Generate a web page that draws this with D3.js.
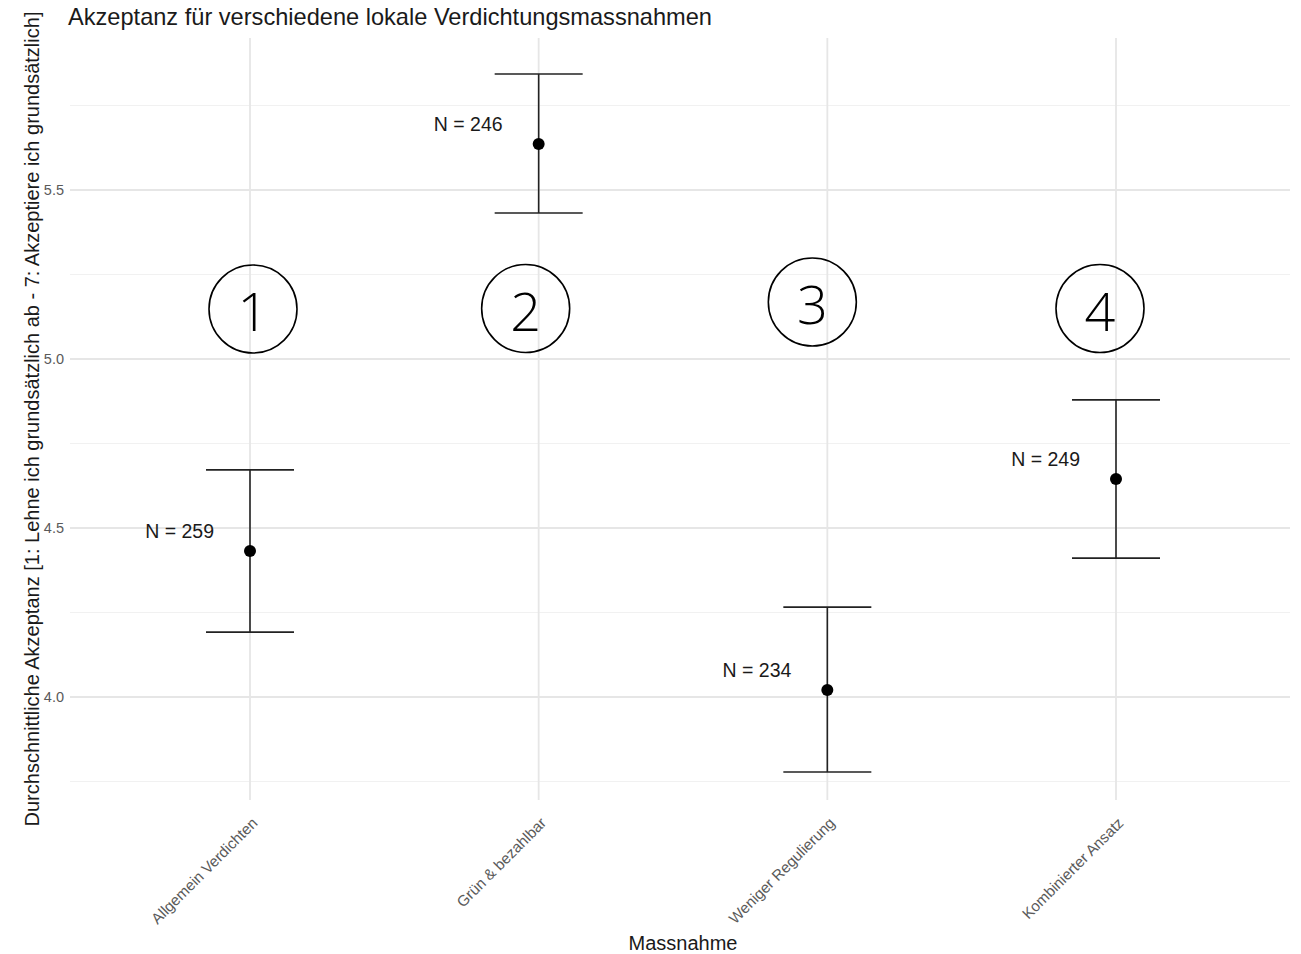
<!DOCTYPE html>
<html>
<head>
<meta charset="utf-8">
<script src="https://cdn.jsdelivr.net/npm/d3@7"></script>
<style>
  html, body { margin: 0; padding: 0; background: #fff; }
  svg { display: block; }
  text { font-family: "Liberation Sans", Arial, sans-serif; }
</style>
</head>
<body>
<div id="chart"></div>
<script>
// Acceptance means with confidence intervals per measure
const categories = ["Allgemein Verdichten", "Grün & bezahlbar", "Weniger Regulierung", "Kombinierter Ansatz"];
const means = [4.432, 5.636, 4.021, 4.645];
const lower = [4.192, 5.432, 3.778, 4.411];
const upper = [4.672, 5.843, 4.266, 4.879];
const counts = [259, 246, 234, 249];
const markers = ["1", "2", "3", "4"];
const yTicks = [4.0, 4.5, 5.0, 5.5];
const yMinor = [3.75, 4.25, 4.75, 5.25, 5.75];

const W = 1301, H = 954;
const panel = { left: 70, right: 1290, top: 38, bottom: 800 };

const svg = d3.select("#chart").append("svg").attr("width", W).attr("height", H);

// discrete x scale with 0.6-step expansion on both sides
const x = d3.scalePoint().domain(categories)
  .range([76.8, 1289.2]).padding(0.6);
const y = d3.scaleLinear().domain([3.7, 5.9]).range([359 + 1.3 * 338, 359 - 0.9 * 338]);

// grid
const grid = svg.append("g");
grid.selectAll("line.minor").data(yMinor).join("line")
  .attr("x1", panel.left).attr("x2", panel.right)
  .attr("y1", d => y(d)).attr("y2", d => y(d))
  .attr("stroke", "#f1f1f1").attr("stroke-width", 1.2);
grid.selectAll("line.major").data(yTicks).join("line")
  .attr("x1", panel.left).attr("x2", panel.right)
  .attr("y1", d => y(d)).attr("y2", d => y(d))
  .attr("stroke", "#e6e6e6").attr("stroke-width", 1.8);
grid.selectAll("line.vmajor").data(categories).join("line")
  .attr("x1", d => x(d)).attr("x2", d => x(d))
  .attr("y1", panel.top).attr("y2", panel.bottom)
  .attr("stroke", "#e6e6e6").attr("stroke-width", 1.8);

// y axis tick labels
const yAxis = svg.append("g").attr("transform", `translate(${panel.left},0)`)
  .call(d3.axisLeft(y).tickValues(yTicks).tickFormat(d3.format(".1f")).tickSize(0).tickPadding(6));
yAxis.select(".domain").remove();
yAxis.selectAll("text").attr("fill", "#5a5a5a").style("font-size", "14.5px")
  .style("font-family", "'Liberation Sans', Arial, sans-serif");

// x axis tick labels, rotated
const xAxis = svg.append("g").attr("transform", `translate(0,${panel.bottom})`)
  .call(d3.axisBottom(x).tickSize(0).tickPadding(0));
xAxis.select(".domain").remove();
xAxis.selectAll("text")
  .attr("fill", "#5a5a5a").style("font-size", "15.2px")
  .style("font-family", "'Liberation Sans', Arial, sans-serif")
  .attr("text-anchor", "end")
  .attr("dy", null).attr("y", 0)
  .attr("transform", "translate(8,24) rotate(-45)");

// error bars
const bars = svg.append("g");
const capHalf = 44;
categories.forEach((c, i) => {
  const cx = x(c);
  bars.append("line").attr("x1", cx).attr("x2", cx)
    .attr("y1", y(lower[i])).attr("y2", y(upper[i]))
    .attr("stroke", "#222").attr("stroke-width", 1.6);
  [lower[i], upper[i]].forEach(v => {
    bars.append("line").attr("x1", cx - capHalf).attr("x2", cx + capHalf)
      .attr("y1", y(v)).attr("y2", y(v))
      .attr("stroke", "#222").attr("stroke-width", 1.6);
  });
  bars.append("circle").attr("cx", cx).attr("cy", y(means[i])).attr("r", 6).attr("fill", "#000");
  bars.append("text").attr("x", cx - 36).attr("y", y(means[i]) - 20)
    .attr("text-anchor", "end").attr("dominant-baseline", "central")
    .attr("fill", "#1a1a1a").style("font-size", "19.5px")
    .text(`N = ${counts[i]}`);
});

// circled measure numbers
const markerY = [309, 308.5, 302, 308.5];
const markerDx = [3, -13, -15, -16];
const mk = svg.append("g");
categories.forEach((c, i) => {
  const cx = x(c) + markerDx[i];
  mk.append("circle").attr("cx", cx).attr("cy", markerY[i]).attr("r", 44)
    .attr("fill", "none").attr("stroke", "#000").attr("stroke-width", 1.6);
  mk.append("text").attr("x", cx).attr("y", markerY[i] + 1)
    .attr("text-anchor", "middle").attr("dominant-baseline", "central")
    .style("font-family", "'Open Sans', 'Noto Sans', sans-serif")
    .style("font-weight", 300).style("font-size", "54px").attr("fill", "#000")
    .text(markers[i]);
});

// titles
svg.append("text").attr("x", 68).attr("y", 25)
  .attr("fill", "#1a1a1a").style("font-size", "23.6px")
  .text("Akzeptanz für verschiedene lokale Verdichtungsmassnahmen");

svg.append("text").attr("x", 683).attr("y", 950)
  .attr("text-anchor", "middle").attr("fill", "#1a1a1a").style("font-size", "20px")
  .text("Massnahme");

svg.append("text")
  .attr("transform", `translate(39,419) rotate(-90)`)
  .attr("text-anchor", "middle").attr("fill", "#1a1a1a").style("font-size", "20px")
  .text("Durchschnittliche Akzeptanz [1: Lehne ich grundsätzlich ab - 7: Akzeptiere ich grundsätzlich]");
</script>
</body>
</html>
